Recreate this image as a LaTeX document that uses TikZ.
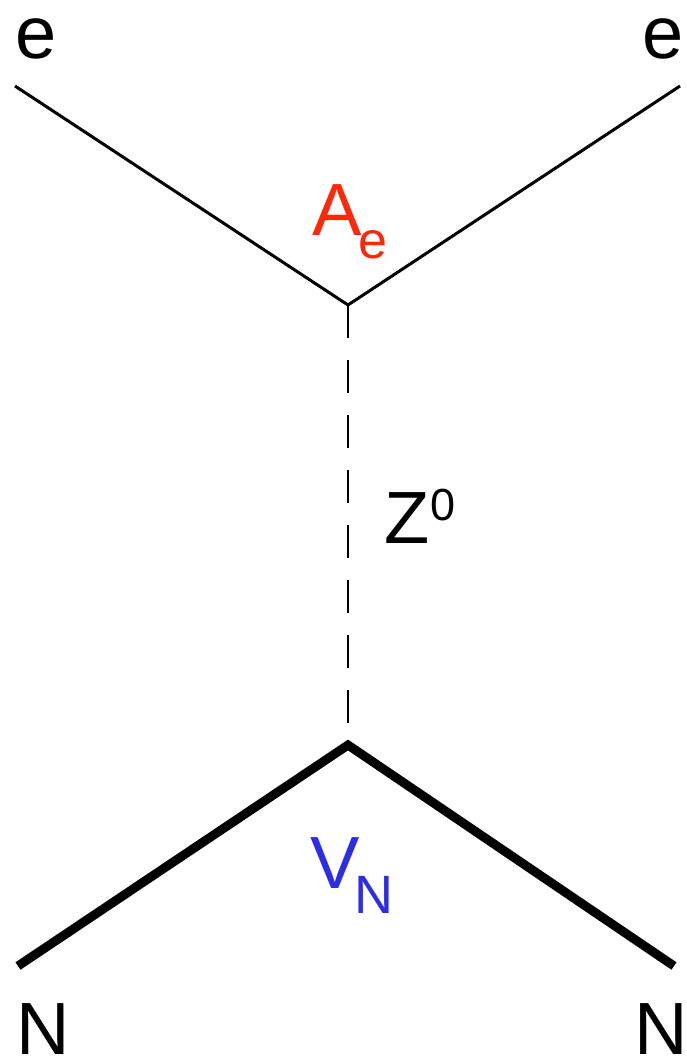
\documentclass[tikz,border=0pt]{standalone}
\usepackage{fontspec}
\setmainfont{Liberation Sans}
\definecolor{lblred}{RGB}{255,40,10}
\definecolor{lblblue}{RGB}{45,45,230}
\begin{document}
\begin{tikzpicture}[x=1pt,y=-1pt,
  lbl/.style={inner sep=0pt,anchor=base west,text depth=0pt,font=\fontsize{74}{80}\selectfont},
  sub/.style={inner sep=0pt,anchor=base west,font=\fontsize{52}{58}\selectfont},
  thin/.style={line width=3pt},
  thick/.style={line width=9pt},
  prop/.style={line width=2.5pt,dash pattern=on 33pt off 22pt}]
\useasboundingbox (0,0) rectangle (686,1058);
\coordinate (tl) at (15,86);
\coordinate (tr) at (680,86);
\coordinate (v1) at (348,305);
\coordinate (v2) at (348,745);
\coordinate (bl) at (18,966);
\coordinate (br) at (674,966);
\draw[thin] (tl) -- (v1) -- (tr);
\draw[prop] (v1) -- (v2);
\draw[thick,line join=miter] (bl) -- (v2) -- (br);
\node[lbl] (e1) at (15,58) {e};
\node[lbl] (e2) at (642,58) {e};
\node[lbl,text=lblred] (A) at (312,235) {A};
\node[sub,text=lblred] (Ae) at (358,258) {e};
\node[lbl] (Z) at (384,543) {Z};
\node[sub,font=\fontsize{45}{50}\selectfont] (Z0) at (430,520) {0};
\node[lbl,text=lblblue] (V) at (310,888) {V};
\node[sub,text=lblblue,font=\fontsize{54}{60}\selectfont] (VN) at (354,913) {N};
\node[lbl] (N1) at (16,1054) {N};
\node[lbl] (N2) at (634,1054) {N};
\end{tikzpicture}
\end{document}
